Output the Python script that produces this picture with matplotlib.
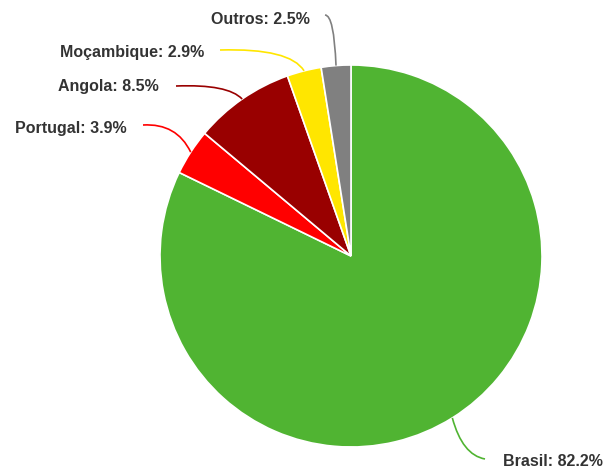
import numpy as np
import matplotlib
matplotlib.use("Agg")
import matplotlib.pyplot as plt
from matplotlib.path import Path
from matplotlib.patches import PathPatch

categories = ["Brasil", "Portugal", "Angola", "Moçambique", "Outros"]
values = [82.2, 3.9, 8.5, 2.9, 2.5]
colors = ["#50b432", "#ff0000", "#990000", "#ffe600", "#808080"]

W, H = 612, 468
fig = plt.figure(figsize=(W / 100, H / 100), dpi=100)
ax = fig.add_axes([0, 0, 1, 1])

cx, cy, R = 351, H - 256, 191
wedges, _ = ax.pie(values, colors=colors, startangle=90, counterclock=False,
                   center=(cx, cy), radius=R, frame=True,
                   wedgeprops=dict(edgecolor="white", linewidth=1.2))
ax.set_xlim(0, W)
ax.set_ylim(0, H)
ax.set_aspect("equal")
ax.axis("off")

# label layout (pixel coordinates from top): text anchor point, connector end, alignment
layout = {
    "Brasil":     dict(tx=503, ty=461, lx=485, ly=459, ha="left"),
    "Portugal":   dict(tx=127, ty=129, lx=143, ly=125, ha="right"),
    "Angola":     dict(tx=159, ty=87,  lx=176, ly=86,  ha="right"),
    "Moçambique": dict(tx=204, ty=53,  lx=220, ly=50,  ha="right"),
    "Outros":     dict(tx=310, ty=19,  lx=325, ly=15,  ha="right"),
}

for w, cat, val, col in zip(wedges, categories, values, colors):
    mid = np.deg2rad((w.theta1 + w.theta2) / 2)
    ex = cx + R * np.cos(mid)
    ey = cy + R * np.sin(mid)
    L = layout[cat]
    lx, ly = L["lx"], H - L["ly"]
    if cat == "Brasil":
        ctrl = (ex + 10, ly + 4)
    elif cat == "Outros":
        ctrl = (ex - 2, ly)
    else:
        ctrl = (ex - 14, ly + 2)
    p = Path([(ex, ey), ctrl, (lx, ly)], [Path.MOVETO, Path.CURVE3, Path.CURVE3])
    ax.add_patch(PathPatch(p, facecolor="none", edgecolor=col, linewidth=1.2))
    ax.text(L["tx"], H - L["ty"], f"{cat}: {val}%", ha=L["ha"], va="center",
            fontsize=11.5, fontweight="bold", color="#333333",
            family=["Liberation Sans", "DejaVu Sans"])

fig.savefig("out.png", dpi=100, facecolor="white")
